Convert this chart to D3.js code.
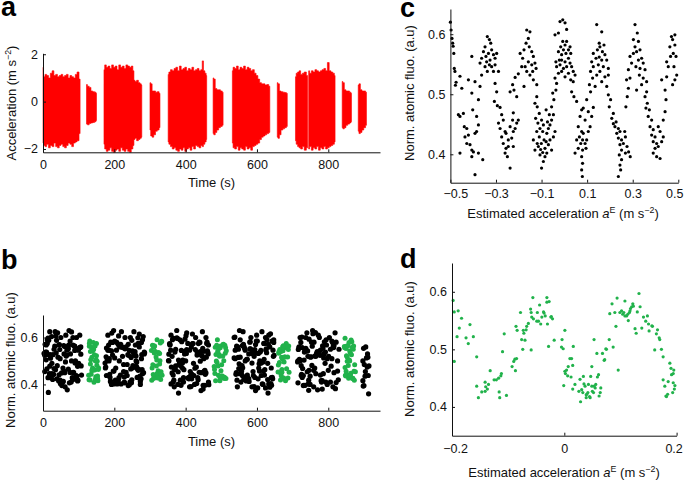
<!DOCTYPE html>
<html><head><meta charset="utf-8">
<script src="https://cdn.jsdelivr.net/npm/d3@7"></script>
<style>body{margin:0;background:#fff}svg{display:block}</style>
</head><body>
<script>
// ---------------- DATA ----------------
// Panel a: acceleration bursts, samples [time (s), upper envelope, lower envelope] (m s^-2)
const accBursts = [
 [[0,1.45,-1.75],[3,1.05,-1.85],[8,1.15,-1.9],[13,1.1,-1.8],[18,1.0,-1.95],[23,1.2,-1.85],[28,1.3,-1.9],[33,1.1,-1.75],[38,1.15,-1.9],[43,1.05,-1.95],[48,1.1,-1.85],[53,1.15,-1.8],[58,1.05,-1.9],[63,1.1,-1.95],[68,1.15,-1.85],[73,1.0,-1.75],[78,1.1,-1.8],[83,1.05,-1.9],[88,1.0,-1.75],[93,1.15,-1.7],[98,1.25,-1.65],[104,0.95,-1.35]],
 [[122,0.72,-0.95],[127,0.65,-0.98],[132,0.6,-0.92],[137,0.45,-0.9],[142,0.42,-0.88],[147,0.4,-0.85],[150,0.35,-0.8]],
 [[171,1.35,-1.8],[175,1.55,-2.0],[180,1.45,-2.1],[185,1.5,-2.05],[190,1.4,-1.95],[195,1.55,-2.1],[200,1.45,-2.14],[205,1.5,-2.05],[210,1.35,-2.0],[215,1.55,-2.1],[220,1.45,-1.95],[225,1.5,-2.05],[230,1.4,-2.1],[235,1.55,-2.0],[240,1.5,-2.1],[245,1.45,-2.14],[250,1.5,-2.0],[254,1.3,-1.85],[256,0.9,-1.6],[260,0.85,-1.55],[265,0.9,-1.65],[270,0.8,-1.6],[274,0.75,-1.55],[277,0.7,-1.5]],
 [[300,0.8,-1.2],[304,0.75,-1.45],[308,0.45,-1.5],[313,0.45,-1.4],[318,0.4,-1.25],[323,0.42,-1.2],[328,0.35,-1.1]],
 [[351,1.15,-1.7],[355,1.25,-1.8],[360,1.35,-1.9],[365,1.3,-2.0],[370,1.4,-1.95],[375,1.45,-2.05],[380,1.3,-2.1],[385,1.5,-2.0],[390,1.35,-2.05],[395,1.4,-1.95],[400,1.45,-2.1],[405,1.3,-2.0],[410,1.4,-1.95],[415,1.35,-2.05],[420,1.45,-1.9],[425,1.3,-2.0],[430,1.35,-1.85],[435,1.4,-1.9],[440,1.3,-1.95],[445,1.35,-1.85],[448,1.72,-1.9],[452,1.3,-1.8],[456,1.2,-1.7],[459,1.1,-1.6]],
 [[477,1.0,-1.35],[481,0.95,-1.4],[485,0.55,-1.3],[490,0.5,-1.2],[495,0.5,-1.1],[500,0.45,-1.05],[505,0.4,-1.0]],
 [[531,1.3,-1.75],[535,1.45,-1.95],[540,1.4,-2.0],[545,1.5,-1.9],[550,1.35,-2.05],[555,1.45,-1.95],[560,1.4,-2.0],[565,1.5,-2.05],[570,1.35,-1.9],[575,1.45,-2.0],[580,1.4,-1.95],[585,1.3,-2.05],[590,1.35,-1.9],[595,1.2,-1.85],[600,1.1,-1.8],[605,0.95,-1.75],[610,0.8,-1.6],[615,0.75,-1.5],[620,0.75,-1.45],[625,0.7,-1.4],[630,0.72,-1.35],[636,0.65,-1.3]],
 [[657,0.8,-1.5],[661,0.75,-1.55],[665,0.45,-1.4],[670,0.42,-1.2],[675,0.4,-1.15],[680,0.38,-1.1],[685,0.35,-1.05]],
 [[708,1.05,-1.65],[712,1.2,-1.8],[716,1.25,-1.9],[720,1.3,-1.95],[725,1.15,-2.0],[730,1.2,-1.9],[735,1.25,-2.05],[742,1.1,-1.95]],
 [[745,1.3,-2.0],[750,1.2,-1.9],[755,1.3,-2.05],[760,1.25,-1.95],[765,1.35,-2.0],[770,1.3,-1.9],[775,1.25,-2.05],[780,1.3,-1.95],[785,1.35,-2.0],[790,1.4,-1.9],[795,1.3,-2.0],[800,1.65,-1.95],[805,1.3,-1.9],[810,1.25,-1.85],[815,1.2,-1.8],[819,1.1,-1.7]],
 [[839,0.85,-1.1],[843,0.8,-1.15],[847,0.5,-1.1],[852,0.45,-1.0],[857,0.45,-0.95],[862,0.4,-0.9],[865,0.35,-0.85]],
 [[884,0.7,-1.25],[888,0.75,-1.35],[892,0.5,-1.3],[897,0.45,-1.2],[902,0.45,-1.1],[907,0.4,-1.0]]
];

// Black measurements: [estimated acceleration aE (m s^-2), norm. atomic fluo. (a.u), time (s)]
const blackPts = [
[-0.5,.62,41],[-0.497,.607,212],[-0.493,.593,398],[-0.49,.585,601],[-0.488,.58,760],[-0.485,.568,9],[-0.483,.543,251],[-0.48,.538,432],[-0.478,.515,547],[-0.475,.52,801],
[-0.458,.53,77],[-0.45,.51,186],[-0.465,.466,369],[-0.458,.463,622],[-0.443,.468,728],[-0.439,.446,25],[-0.436,.429,268],[-0.428,.443,455],[-0.421,.432,570],[-0.414,.416,783],
[-0.428,.418,98],[-0.406,.407,229],[-0.406,.396,387],[-0.399,.404,639],[-0.377,.402,744],[-0.458,.402,199],[-0.392,.366,15],[-0.358,.391,415],[-0.385,.438,590],[-0.392,.435,903],
[-0.377,.449,52],[-0.385,.463,278],[-0.402,.474,360],[-0.377,.491,612],[-0.406,.502,722],[-0.406,.563,88],[-0.421,.524,240],[-0.392,.521,447],[-0.37,.513,536],[-0.363,.532,771],
[-0.355,.571,6],[-0.348,.579,195],[-0.338,.596,377],[-0.329,.591,628],[-0.323,.585,810],[-0.344,.563,33],[-0.333,.568,259],[-0.319,.574,421],[-0.311,.566,559],[-0.341,.554,737],
[-0.326,.557,104],[-0.304,.56,221],[-0.297,.568,356],[-0.348,.546,645],[-0.338,.538,792],[-0.319,.546,67],[-0.311,.538,284],[-0.289,.538,462],[-0.37,.552,582],[-0.329,.549,716],
[-0.363,.56,905],[-0.304,.549,47],[-0.304,.518,177],[-0.297,.504,392],[-0.307,.488,606],[-0.294,.481,754],[-0.282,.478,19],[-0.275,.466,246],[-0.289,.452,438],[-0.282,.443,541],
[-0.268,.457,826],[-0.275,.429,82],[-0.268,.418,203],[-0.256,.41,365],[-0.26,.402,633],[-0.25,.396,731],[-0.246,.413,57],[-0.238,.377,68],[-0.256,.435,272],[-0.246,.424,409],
[-0.231,.427,575],[-0.224,.438,912],[-0.216,.443,30],[-0.209,.452,233],[-0.202,.457,452],[-0.227,.457,618],[-0.238,.446,765],[-0.26,.438,92],[-0.224,.413,190],[-0.238,.504,380],
[-0.227,.516,553],[-0.221,.507,719],[-0.216,.528,13],[-0.209,.496,263],[-0.224,.469,426],[-0.202,.534,597],[-0.187,.546,778],[-0.194,.568,72],[-0.183,.56,215],[-0.177,.574,355],
[-0.168,.585,642],[-0.158,.593,746],[-0.165,.607,36],[-0.151,.604,281],[-0.154,.579,440],[-0.143,.571,562],[-0.136,.563,814],[-0.158,.554,101],[-0.172,.546,182],[-0.143,.549,403],
[-0.129,.552,626],[-0.165,.538,733],[-0.151,.532,3],[-0.136,.524,256],[-0.124,.543,461],[-0.139,.538,588],[-0.177,.513,787],[-0.121,.516,911],[-0.121,.496,63],[-0.129,.485,226],
[-0.119,.479,372],[-0.11,.468,549],[-0.126,.46,759],[-0.116,.452,85],[-0.1,.457,199],[-0.107,.443,418],[-0.121,.438,612],[-0.095,.438,724],[-0.11,.429,22],[-0.089,.424,275],
[-0.101,.418,385],[-0.114,.413,578],[-0.085,.41,806],[-0.095,.403,49],[-0.107,.399,242],[-0.085,.396,449],[-0.092,.388,636],[-0.1,.377,770],[-0.077,.435,95],[-0.07,.443,187],
[-0.063,.449,362],[-0.056,.457,557],[-0.074,.454,741],[-0.066,.466,11],[-0.048,.466,265],[-0.08,.474,430],[-0.063,.424,603],[-0.07,.416,897],[-0.056,.407,74],[-0.077,.402,208],
[-0.048,.429,394],[-0.119,.418,544],[-0.129,.407,715],[-0.136,.424,39],[-0.041,.438,236],[-0.092,.449,457],[-0.08,.421,630],[-0.104,.408,822],[-0.056,.479,107],[-0.046,.491,174],
[-0.051,.502,352],[-0.037,.507,571],[-0.034,.518,752],[-0.041,.527,28],[-0.026,.535,285],[-0.034,.546,411],[-0.019,.549,594],[-0.022,.557,727],[-0.012,.566,58],[-0.026,.571,218],
[-0.004,.574,436],[-0.016,.579,647],[0.003,.582,789],[-0.007,.588,16],[0.01,.588,249],[-0.041,.599,375],[-0.026,.602,538],[-0.019,.621,764],[-0.007,.624,80],[0.003,.619,193],
[0.01,.608,401],[0.018,.574,621],[0.025,.579,812],[0.007,.568,44],[0.018,.56,270],[0.028,.568,464],[0.003,.554,565],[-0.004,.543,739],[0.01,.546,99],[0.025,.552,230],
[0.032,.546,358],[0.039,.538,609],[0.018,.535,774],[-0.012,.538,7],[0.003,.529,258],[0.028,.524,444],[0.047,.532,585],[-0.012,.557,718],[-0.037,.554,899],[0.039,.521,65],
[0.032,.504,180],[0.042,.496,383],[0.054,.488,550],[0.076,.474,909],[0.069,.463,35],[0.061,.446,279],[0.076,.438,423],[0.066,.429,640],[0.083,.435,749],[0.08,.424,87],
[0.091,.418,211],[0.072,.418,367],[0.098,.424,577],[0.061,.41,793],[0.08,.407,54],[0.095,.41,244],[0.076,.396,454],[0.08,.385,624],[0.076,.374,443],[0.079,.363,380],
[0.105,.438,730],[0.113,.446,18],[0.091,.457,197],[0.12,.463,395],[0.105,.471,560],[0.127,.478,808],[0.098,.491,90],[0.083,.477,262],[0.054,.424,417],[0.047,.402,615],
[0.115,.504,720],[0.11,.516,42],[0.124,.527,238],[0.115,.538,370],[0.127,.546,539],[0.12,.554,785],[0.139,.56,69],[0.127,.568,184],[0.145,.574,459],[0.153,.585,598],
[0.142,.616,757],[0.164,.604,24],[0.156,.579,276],[0.174,.582,389],[0.167,.571,632],[0.178,.566,816],[0.186,.557,103],[0.164,.557,224],[0.149,.549,427],[0.171,.546,567],
[0.193,.543,742],[0.156,.538,10],[0.142,.532,254],[0.178,.529,353],[0.193,.532,604],[0.164,.521,762],[0.135,.513,907],[0.153,.562,61],[0.186,.513,201],[0.193,.499,441],
[0.203,.491,586],[0.197,.479,914],[0.215,.468,31],[0.208,.46,267],[0.227,.454,379],[0.222,.446,551],[0.237,.443,725],[0.23,.435,94],[0.244,.438,178],[0.237,.427,406],
[0.251,.424,644],[0.244,.416,780],[0.259,.418,48],[0.251,.407,248],[0.241,.399,465],[0.251,.391,592],[0.244,.382,820],[0.247,.374,596],[0.237,.363,631],[0.268,.429,14],
[0.275,.413,189],[0.282,.404,431],[0.265,.438,559],[0.289,.396,735],[0.215,.451,76],[0.268,.402,219],[0.27,.479,386],[0.276,.496,617],[0.281,.51,797],[0.273,.524,5],
[0.288,.527,277],[0.281,.541,451],[0.295,.552,580],[0.288,.563,755],[0.303,.568,84],[0.31,.579,207],[0.303,.591,363],[0.31,.616,638],[0.32,.602,726],[0.325,.588,38],
[0.317,.571,239],[0.332,.574,419],[0.339,.56,546],[0.325,.557,815],[0.346,.552,71],[0.332,.543,192],[0.354,.541,397],[0.314,.546,625],[0.329,.532,767],[0.346,.527,20],
[0.361,.521,261],[0.339,.516,458],[0.317,.507,573],[0.354,.496,714],[0.364,.485,901],[0.358,.477,97],[0.373,.474,176],[0.368,.463,371],[0.383,.457,607],[0.376,.446,786],
[0.39,.441,45],[0.383,.432,228],[0.398,.429,434],[0.39,.421,563],[0.405,.418,745],[0.398,.41,79],[0.412,.413,273],[0.39,.402,359],[0.405,.396,641],[0.42,.393,898],
[0.427,.421,27],[0.434,.429,213],[0.42,.438,414],[0.412,.446,556],[0.361,.504,732],[0.434,.457,59],[0.442,.471,252],[0.446,.491,391],[0.442,.507,620],[0.427,.524,777],
[0.449,.529,106],[0.456,.546,185],[0.449,.554,448],[0.466,.563,543],[0.463,.579,723],[0.475,.591,12],[0.485,.599,266],[0.47,.596,366],[0.485,.582,581],[0.478,.568,795],
[0.49,.563,89],[0.481,.546,206],[0.493,.532,402],[0.485,.524,648],[0.475,.516,750]
];

// Further black time-series samples shown only in panel b: [time (s), norm. atomic fluo. (a.u)]
const blackExtraB = [
[5,.455],[14,.598],[21,.512],[27,.44],[34,.625],[40,.48],[46,.57],[53,.395],[59,.53],[64,.61],[71,.465],[76,.585],[83,.42],[89,.545],[94,.6],[100,.49],[106,.56],[9,.505],[17,.43],[31,.55],
[44,.415],[50,.6],[61,.45],[67,.525],[73,.63],[80,.5],[86,.45],[97,.415],[103,.61],[12,.575],[25,.49],[37,.535],[56,.47],[70,.555],[91,.5],[108,.44],[19,.625],[48,.51],[84,.6],[62,.39],
[175,.47],[182,.61],[188,.43],[195,.525],[201,.585],[207,.41],[214,.5],[220,.625],[226,.455],[233,.56],[239,.395],[245,.6],[252,.48],[258,.54],[264,.43],[270,.615],[276,.51],[282,.45],[178,.555],[185,.5],
[192,.4],[198,.63],[204,.47],[211,.57],[217,.44],[223,.52],[230,.6],[236,.485],[242,.545],[249,.42],[255,.625],[261,.5],[267,.575],[273,.4],[279,.59],[284,.53],[190,.58],[228,.41],[247,.515],[268,.465],
[353,.5],[359,.61],[365,.44],[372,.55],[378,.4],[384,.59],[391,.47],[397,.53],[403,.62],[409,.43],[416,.56],[422,.49],[428,.6],[435,.42],[441,.54],[447,.625],[454,.46],[460,.58],[464,.41],[356,.57],
[362,.52],[368,.39],[375,.63],[381,.485],[388,.545],[394,.41],[400,.5],[406,.575],[413,.455],[419,.615],[425,.4],[432,.525],[438,.58],[444,.45],[451,.51],[457,.6],[463,.53],[370,.465],[411,.39],[449,.38],
[536,.6],[542,.45],[548,.55],[555,.41],[561,.625],[567,.5],[573,.44],[580,.58],[586,.39],[592,.52],[599,.61],[605,.47],[611,.545],[617,.4],[624,.6],[630,.49],[636,.56],[643,.43],[647,.59],[539,.51],
[545,.39],[551,.63],[558,.48],[564,.56],[570,.415],[577,.53],[583,.6],[589,.455],[596,.57],[602,.385],[608,.5],[614,.625],[621,.44],[627,.535],[633,.61],[640,.47],[646,.52],[553,.59],[594,.43],[619,.575],
[715,.5],[721,.6],[727,.43],[734,.55],[740,.62],[746,.46],[753,.58],[759,.39],[765,.52],[772,.61],[778,.44],[784,.565],[791,.49],[797,.4],[803,.6],[810,.51],[816,.45],[822,.58],[828,.42],[718,.56],
[724,.48],[730,.395],[737,.6],[743,.52],[749,.4],[756,.63],[762,.47],[769,.54],[775,.6],[781,.41],[788,.53],[794,.59],[800,.46],[806,.55],[813,.39],[819,.62],[826,.5],[745,.375],[783,.38],[830,.55],
[897,.5],[904,.455],[910,.53],[900,.395],[913,.36]
];

// Green measurements: [aE (m s^-2), norm. atomic fluo. (a.u), time (s)]
const greenPts = [
[-0.198,.585,131],[-0.196,.565,309],[-0.189,.567,487],[-0.187,.537,662],[-0.191,.522,851],[-0.183,.554,140],[-0.196,.479,318],[-0.175,.52,495],[-0.171,.51,671],[-0.168,.543,860],
[-0.162,.522,150],[-0.156,.487,327],[-0.156,.436,503],[-0.153,.416,680],[-0.147,.426,869],[-0.141,.443,135],[-0.14,.435,312],[-0.137,.431,509],[-0.141,.427,687],[-0.135,.439,848],
[-0.132,.463,144],[-0.125,.447,322],[-0.121,.447,482],[-0.117,.45,666],[-0.116,.426,857],[-0.115,.416,154],[-0.113,.454,331],[-0.112,.458,499],[-0.11,.496,676],[-0.107,.527,865],
[-0.103,.42,129],[-0.093,.47,306],[-0.09,.479,491],[-0.088,.483,660],[-0.085,.484,874],[-0.087,.463,138],[-0.086,.54,315],[-0.084,.533,511],[-0.078,.564,683],[-0.076,.517,853],
[-0.074,.5,147],[-0.073,.533,325],[-0.072,.528,485],[-0.07,.516,669],[-0.068,.534,862],[-0.067,.54,133],[-0.064,.545,304],[-0.06,.57,505],[-0.059,.564,689],[-0.058,.556,846],
[-0.059,.499,152],[-0.056,.59,320],[-0.055,.553,493],[-0.049,.549,664],[-0.048,.564,871],[-0.046,.549,142],[-0.044,.577,329],[-0.042,.544,514],[-0.04,.556,678],[-0.037,.565,855],
[-0.036,.563,130],[-0.034,.558,311],[-0.031,.59,489],[-0.03,.544,673],[-0.031,.582,866],[-0.028,.505,149],[-0.027,.583,333],[-0.024,.556,497],[-0.023,.557,684],[-0.021,.553,850],
[-0.018,.516,137],[-0.004,.517,317],[-0.002,.501,507],[0.001,.533,661],[-0.005,.504,859],[0.001,.462,145],[0.002,.458,323],[0.004,.464,481],[-0.001,.437,668],[0.006,.454,876],
[0.007,.47,156],[0.01,.484,308],[0.013,.484,501],[0.012,.452,690],[0.015,.472,847],[0.016,.505,134],[0.015,.431,326],[0.019,.439,492],[0.026,.427,675],[0.028,.448,863],
[0.029,.409,143],[0.031,.43,314],[0.033,.425,513],[0.034,.453,665],[0.035,.44,854],[0.037,.436,153],[0.039,.421,330],[0.039,.416,484],[0.04,.422,681],[0.042,.425,868],
[0.043,.439,128],[0.045,.418,305],[0.046,.416,496],[0.047,.453,659],[0.049,.436,849],[0.049,.47,139],[0.05,.427,321],[0.052,.425,508],[0.053,.517,686],[0.053,.436,861],
[0.055,.433,148],[0.056,.439,334],[0.058,.493,488],[0.059,.452,670],[0.061,.456,872],[0.062,.419,132],[0.064,.425,310],[0.065,.433,502],[0.068,.493,663],[0.071,.481,856],
[0.072,.482,151],[0.074,.501,328],[0.075,.5,486],[0.08,.517,679],[0.081,.562,845],[0.085,.579,141],[0.087,.504,319],[0.09,.564,498],[0.092,.54,667],[0.094,.589,864],
[0.096,.464,155],[0.099,.564,313],[0.102,.567,510],[0.104,.561,685],[0.106,.564,852],[0.108,.558,136],[0.108,.584,332],[0.111,.558,483],[0.113,.561,672],[0.114,.55,870],
[0.116,.564,146],[0.117,.567,307],[0.118,.571,506],[0.12,.574,682],[0.122,.579,858],[0.123,.575,130],[0.126,.536,324],[0.128,.528,494],[0.13,.565,674],[0.133,.597,847],
[0.135,.574,150],[0.138,.537,316],[0.141,.556,512],[0.145,.549,688],[0.148,.558,867],[0.15,.544,139],[0.151,.532,327],[0.156,.541,490],[0.157,.54,662],[0.161,.499,853],
[0.164,.527,144],[0.166,.534,312],[0.169,.52,504],[0.17,.517,677],[0.173,.5,860],[0.176,.487,133],[0.176,.447,320],[0.179,.436,500],[0.181,.419,666],[0.182,.418,873],
[0.184,.422,147],[0.185,.444,331],[0.188,.476,480],[0.19,.467,683],[0.191,.456,850],[0.193,.425,153],[0.194,.442,309],[0.196,.431,496],[0.195,.464,670],[0.197,.437,862],
[0.194,.458,137]
];

// Tick values and labels
const timeTicks = [0,200,400,600,800];
const timeTickLabels = ["0","200","400","600","800"];
const accTicks = [-2,0,2];
const accTickLabels = ["\u22122","0","2"];
const fluoTicksB = [0.4,0.6];
const fluoTickLabelsB = ["0.4","0.6"];
const fluoTicks = [0.4,0.5,0.6];
const fluoTickLabels = ["0.4","0.5","0.6"];
const aeTicksC = [-0.5,-0.3,-0.1,0.1,0.3,0.5];
const aeTickLabelsC = ["\u22120.5","\u22120.3","\u22120.1","0.1","0.3","0.5"];
const aeTicksD = [-0.2,0,0.2];
const aeTickLabelsD = ["\u22120.2","0","0.2"];

// ---------------- DRAWING ----------------
const FONT = '"Liberation Sans", Arial, Helvetica, sans-serif';
const RED = "#ff0000", GREEN = "#21b24b";
const svg = d3.select("body").append("svg").attr("width",685).attr("height",480)
  .style("font-family", FONT);

// scales
const xA = d3.scaleLinear().domain([0,945]).range([43,380]);
const yA = d3.scaleLinear().domain([-2.14,2.04]).range([152.3,53.3]);
const xB = d3.scaleLinear().domain([0,945]).range([43,380]);
const yB = d3.scaleLinear().domain([0.288,0.696]).range([410.7,315]);
const xC = d3.scaleLinear().domain([-0.5,0.5]).range([450.4,678.3]);
const yC = d3.scaleLinear().domain([0.3527,0.642]).range([182.7,9]);
const xD = d3.scaleLinear().domain([-0.2,0.2]).range([452,676.6]);
const yD = d3.scaleLinear().domain([0.35,0.65]).range([435.7,263]);

function axes(x, y, xt, xl, yt, yl, xpad, endShift) {
  const gx = svg.append("g").attr("transform", `translate(0,${y.range()[0]})`)
    .call(d3.axisBottom(x).tickValues(xt).tickFormat((d,i)=>xl[i]).tickSizeInner(-3).tickSizeOuter(0).tickPadding(xpad));
  const gy = svg.append("g").attr("transform", `translate(${x.range()[0]},0)`)
    .call(d3.axisLeft(y).tickValues(yt).tickFormat((d,i)=>yl[i]).tickSizeInner(-3).tickSizeOuter(0).tickPadding(5));
  [gx,gy].forEach(g=>{
    g.selectAll("path.domain").attr("stroke","#111").attr("stroke-width",1);
    g.selectAll(".tick line").attr("stroke","#111");
    g.selectAll("text").attr("font-size",12.5).attr("fill","#111").attr("font-family",FONT);
  });
  if (endShift) {
    const n = xt.length;
    gx.selectAll(".tick text").attr("dx", (d,i)=> i===0 ? endShift[0] : (i===n-1 ? endShift[1] : 0));
  }
}

function label(x, y, rotate, parts, size) {
  const t = svg.append("text").attr("font-size", size).attr("fill","#111")
    .attr("text-anchor","middle")
    .attr("transform", `translate(${x},${y})` + (rotate ? " rotate(-90)" : ""));
  let shifted = false;
  parts.forEach(p => {
    const s = t.append("tspan").text(p.t);
    if (p.sup) { s.attr("font-size", size*0.68).attr("dy", -size*0.4); shifted = true; }
    else if (shifted) { s.attr("dy", size*0.4); shifted = false; }
    if (p.it) s.attr("font-style","italic");
  });
}

function letter(x, y, s) {
  svg.append("text").attr("x",x).attr("y",y).attr("font-size",27).attr("font-weight","bold")
    .attr("fill","#000").text(s);
}

// Panel a
const area = d3.area().x(d=>xA(d[0])).y0(d=>yA(d[2])).y1(d=>yA(d[1])).curve(d3.curveStep);
svg.append("g").selectAll("path").data(accBursts).join("path")
  .attr("d", area).attr("fill", RED).attr("stroke", RED).attr("stroke-width", 0.6);
axes(xA, yA, timeTicks, timeTickLabels, accTicks, accTickLabels, 7.5);
label(211.5, 187, false, [{t:"Time (s)"}], 13);
label(16, 103, true, [{t:"Acceleration (m s"},{t:"\u22122",sup:true},{t:")"}], 13);
letter(1, 16, "a");

// Panel b
svg.append("g").selectAll("circle").data(blackExtraB).join("circle")
  .attr("cx", d=>xB(d[0])).attr("cy", d=>yB(d[1])).attr("r", 2.6).attr("fill", "#000");
svg.append("g").selectAll("circle").data(blackPts).join("circle")
  .attr("cx", d=>xB(d[2])).attr("cy", d=>yB(d[1])).attr("r", 2.6).attr("fill", "#000");
svg.append("g").selectAll("circle").data(greenPts).join("circle")
  .attr("cx", d=>xB(d[2])).attr("cy", d=>yB(d[1])).attr("r", 2.5).attr("fill", GREEN);
axes(xB, yB, timeTicks, timeTickLabels, fluoTicksB, fluoTickLabelsB, 7);
label(211.5, 446, false, [{t:"Time (s)"}], 13);
label(15, 360, true, [{t:"Norm. atomic fluo. (a.u)"}], 13);
letter(1, 269, "b");

// Panel c
svg.append("g").selectAll("circle").data(blackPts).join("circle")
  .attr("cx", d=>xC(d[0])).attr("cy", d=>yC(d[1])).attr("r", 1.6).attr("fill", "#000");
axes(xC, yC, aeTicksC, aeTickLabelsC, fluoTicks, fluoTickLabels, 6.5, [5, -4]);
label(563, 218, false, [{t:"Estimated acceleration "},{t:"a",it:true},{t:"E",sup:true},{t:" (m s"},{t:"\u22122",sup:true},{t:")"}], 13);
label(414, 93, true, [{t:"Norm. atomic fluo. (a.u)"}], 13);
letter(400, 17, "c");

// Panel d
svg.append("g").selectAll("circle").data(greenPts).join("circle")
  .attr("cx", d=>xD(d[0])).attr("cy", d=>yD(d[1])).attr("r", 1.6).attr("fill", GREEN);
axes(xD, yD, aeTicksD, aeTickLabelsD, fluoTicks, fluoTickLabels, 8.5, [3, -3]);
label(564, 477, false, [{t:"Estimated acceleration "},{t:"a",it:true},{t:"E",sup:true},{t:" (m s"},{t:"\u22122",sup:true},{t:")"}], 13);
label(414, 349, true, [{t:"Norm. atomic fluo. (a.u)"}], 13);
letter(400, 268, "d");
</script>
</body></html>
